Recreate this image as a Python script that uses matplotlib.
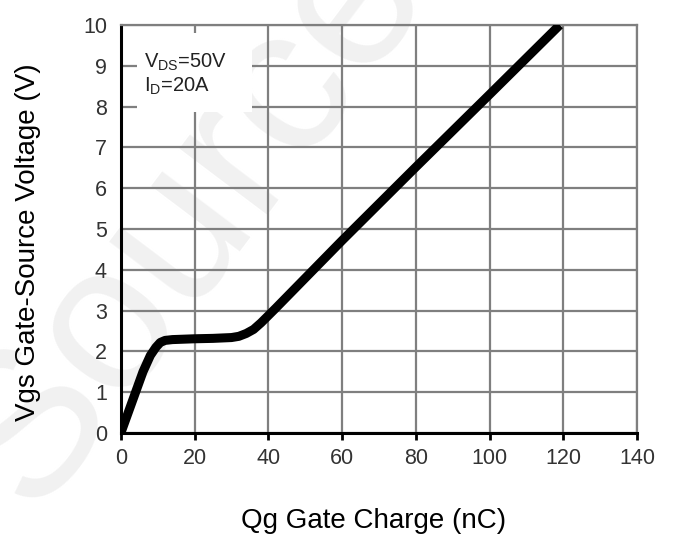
import numpy as np
import matplotlib
matplotlib.use("Agg")
import matplotlib.pyplot as plt
from matplotlib.patches import Rectangle

# gate charge curve
qg = [0, 2, 4, 6, 8, 9.5, 10.7, 12, 14, 20, 25, 30, 32, 34, 36, 38, 40, 42, 60, 80, 100, 119]
vgs = [0, 0.5, 1.0, 1.5, 1.9, 2.1, 2.22, 2.27, 2.29, 2.31, 2.32, 2.34, 2.37, 2.44, 2.54, 2.7, 2.88, 3.06, 4.72, 6.52, 8.3, 10.0]

xticks = [0, 20, 40, 60, 80, 100, 120, 140]
yticks = list(range(0, 11))

plt.rcParams["font.family"] = ["Liberation Sans", "DejaVu Sans"]

fig = plt.figure(figsize=(6.75, 5.44), dpi=100)
ax = fig.add_axes([0.179, 0.204, 0.765, 0.75])
ax.set_facecolor("none")

# faint site watermark, drawn under the axes
fig.text(0.28, 0.6, "Source", fontsize=150, color="#f1f1f1", rotation=53,
         ha="center", va="center", zorder=-5)

ax.plot(qg, vgs, color="black", lw=6.5, solid_capstyle="butt",
        solid_joinstyle="round", zorder=4)

ax.set_xlim(0, 140)
ax.set_ylim(0, 10)
ax.set_xticks(xticks)
ax.set_yticks(yticks)
ax.grid(True, color="#7f7f7f", lw=1.6, zorder=1)
ax.set_axisbelow(True)

for s in ["top", "right"]:
    ax.spines[s].set_color("#7f7f7f")
    ax.spines[s].set_linewidth(1.6)
for s in ["left", "bottom"]:
    ax.spines[s].set_color("black")
    ax.spines[s].set_linewidth(2.2)

ax.tick_params(axis="x", length=5, width=2, color="black", labelsize=15.5,
               labelcolor="#333333", pad=6)
ax.tick_params(axis="y", length=0, labelsize=15.5, labelcolor="#333333", pad=10)

# white box behind the test conditions, breaks the grid
ax.add_patch(Rectangle((0.031, 0.787), 0.223, 0.193, transform=ax.transAxes,
                       facecolor="white", edgecolor="none", zorder=3))
ax.text(0.045, 0.935, "V$_{\\mathregular{DS}}$=50V\nI$_{\\mathregular{D}}$=20A",
        transform=ax.transAxes, fontsize=14.5, va="top", ha="left",
        linespacing=1.2, color="#222222", zorder=5)

fig.text(0.553, 0.043, "Qg Gate Charge (nC)", fontsize=20, ha="center", va="center")
fig.text(0.042, 0.555, "Vgs Gate-Source Voltage (V)", fontsize=20,
         rotation=90, ha="center", va="center")

fig.savefig("out.png", dpi=100)
